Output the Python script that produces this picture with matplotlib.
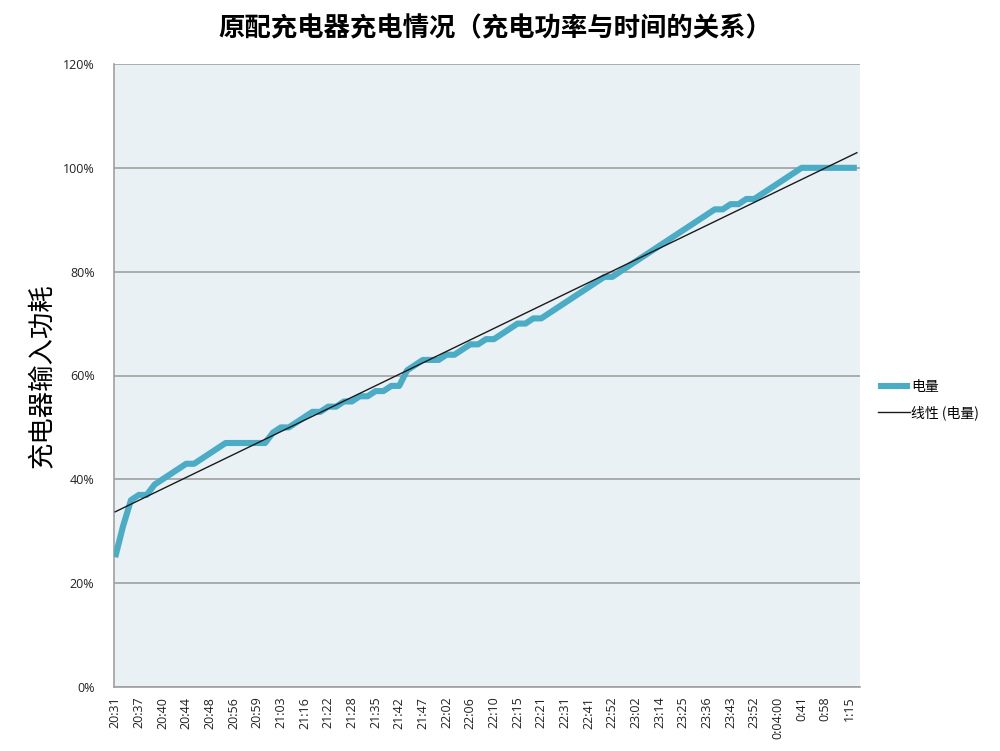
import numpy as np
import matplotlib
matplotlib.use("Agg")
import matplotlib.pyplot as plt
from matplotlib.ticker import PercentFormatter

plt.rcParams['font.family'] = ['Noto Sans CJK SC', 'DejaVu Sans']

title = "原配充电器充电情况（充电功率与时间的关系）"
ylabel = "充电器输入功耗"

# tick labels shown every 3rd sample
time_labels = ["20:31", "20:37", "20:40", "20:44", "20:48", "20:56", "20:59",
               "21:03", "21:16", "21:22", "21:28", "21:35", "21:42", "21:47",
               "22:02", "22:06", "22:10", "22:15", "22:21", "22:31", "22:41",
               "22:52", "23:02", "23:14", "23:25", "23:36", "23:43", "23:52",
               "0:04:00", "0:41", "0:58", "1:15"]
label_step = 3

# battery level (%) per sample
charge = [25, 31, 36, 37, 37, 39, 40, 41, 42, 43,
          43, 44, 45, 46, 47, 47, 47, 47, 47, 47,
          49, 50, 50, 51, 52, 53, 53, 54, 54, 55,
          55, 56, 56, 57, 57, 58, 58, 61, 62, 63,
          63, 63, 64, 64, 65, 66, 66, 67, 67, 68,
          69, 70, 70, 71, 71, 72, 73, 74, 75, 76,
          77, 78, 79, 79, 80, 81, 82, 83, 84, 85,
          86, 87, 88, 89, 90, 91, 92, 92, 93, 93,
          94, 94, 95, 96, 97, 98, 99, 100, 100, 100,
          100, 100, 100, 100, 100]

x = np.arange(len(charge))
y = np.array(charge)

# excel-style linear trend line
coef = np.polyfit(x, y, 1)
trend = np.polyval(coef, x)

fig = plt.figure(figsize=(10, 7.51), dpi=100)
ax = fig.add_axes([0.114, 0.0852, 0.746, 0.8296])
ax.set_facecolor('#e9f1f5')

ax.plot(x, y, color='#4bacc6', lw=4.4, solid_joinstyle='round',
        solid_capstyle='butt', label='电量', zorder=3)
ax.plot(x, trend, color='#1a1a1a', lw=1.0, label='线性 (电量)', zorder=4)

ax.set_xlim(-0.15, len(charge) - 0.6)
ax.set_ylim(0, 120)
ax.set_yticks(np.arange(0, 121, 20))
ax.yaxis.set_major_formatter(PercentFormatter(decimals=0))
ax.set_xticks(x[::label_step][:len(time_labels)])
ax.set_xticklabels(time_labels, rotation=90)

ax.grid(axis='y', color='#a0a0a0', lw=1.2)
ax.set_axisbelow(True)
for s in ['top', 'right']:
    ax.spines[s].set_visible(False)
for s in ['left', 'bottom']:
    ax.spines[s].set_color('#a0a0a0')
    ax.spines[s].set_linewidth(1.2)
ax.tick_params(axis='both', length=0, labelsize=9, colors='#222222')
for lab in ax.get_xticklabels() + ax.get_yticklabels():
    lab.set_family(['Open Sans', 'DejaVu Sans'])
ax.tick_params(axis='y', pad=14)
ax.tick_params(axis='x', pad=7)

ax.set_ylabel(ylabel, fontsize=19)
ax.yaxis.set_label_coords(-0.079, 0.5)
fig.text(0.495, 0.962, title, ha='center', va='center', fontsize=19,
         fontweight='bold')

fig.legend(loc='upper left', bbox_to_anchor=(0.872, 0.502), frameon=False,
           fontsize=10, handlelength=2.3, handletextpad=0.1,
           labelspacing=0.85, borderaxespad=0.0)

fig.savefig('out.png', dpi=100)
